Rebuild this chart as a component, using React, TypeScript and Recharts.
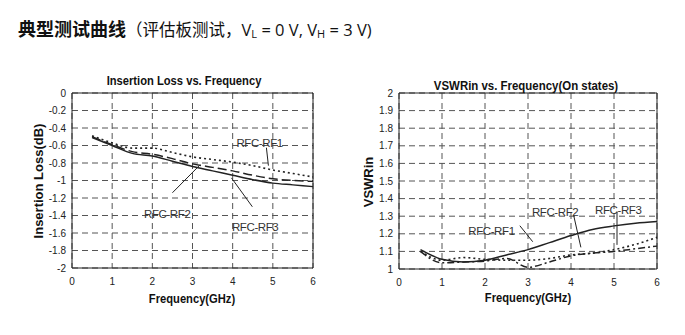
import { LineChart, Line, XAxis, YAxis, CartesianGrid, ReferenceLine, ReferenceDot } from 'recharts'

const freq = [0.5, 1, 1.5, 2, 2.5, 3, 3.5, 4, 4.5, 5, 5.5, 6]
const freqTicks = [0, 1, 2, 3, 4, 5, 6]

// insertion loss (dB)
const ilTicks = [0, -0.2, -0.4, -0.6, -0.8, -1, -1.2, -1.4, -1.6, -1.8, -2]
const ilRf1 = [-0.49, -0.57, -0.63, -0.63, -0.68, -0.73, -0.76, -0.79, -0.83, -0.88, -0.92, -0.96]
const ilRf2 = [-0.5, -0.59, -0.67, -0.7, -0.75, -0.81, -0.85, -0.89, -0.94, -0.98, -1.0, -1.01]
const ilRf3 = [-0.51, -0.6, -0.69, -0.72, -0.78, -0.84, -0.89, -0.94, -0.99, -1.03, -1.05, -1.07]

// VSWR in, on states
const vsTicks = [1, 1.1, 1.2, 1.3, 1.4, 1.5, 1.6, 1.7, 1.8, 1.9, 2]
const vsRf1 = [1.11, 1.055, 1.04, 1.05, 1.08, 1.11, 1.15, 1.19, 1.225, 1.245, 1.26, 1.27]
const vsRf2 = [1.1, 1.035, 1.04, 1.045, 1.06, 1.01, 1.04, 1.075, 1.09, 1.1, 1.115, 1.13]
const vsRf3 = [1.1, 1.05, 1.065, 1.055, 1.05, 1.05, 1.06, 1.08, 1.09, 1.11, 1.14, 1.18]

const pts = (vals: number[]) => freq.map((f, i) => ({ f, v: vals[i] }))

const ink = '#222'
const tick = { fontSize: 10, fill: '#222' }
const labelStyle = { fontSize: 11.5, fill: '#333', letterSpacing: -0.4 }

export default function App() {
  const boldLbl: any = { position: 'absolute', fontWeight: 'bold', fontSize: 13, color: '#111', whiteSpace: 'nowrap' }
  const sub: any = { fontSize: 11, verticalAlign: '-2px' }
  return (
    <div style={{ position: 'absolute', left: 0, top: 0, width: 685, height: 335, background: '#fff', fontFamily: "'Liberation Sans', Arial, sans-serif" }}>
      <div style={{ position: 'absolute', left: 18, top: 15, whiteSpace: 'nowrap', fontFamily: "'Open Sans', 'Noto Sans CJK SC', sans-serif", color: '#111' }}>
        <span style={{ fontSize: 18, fontWeight: 'bold', fontFamily: "'Noto Sans CJK SC', sans-serif" }}>典型测试曲线</span>
        <span style={{ fontSize: 16.5 }}>（评估板测试，V<sub style={sub}>L</sub> = 0 V, V<sub style={sub}>H</sub> = 3 V)</span>
      </div>

      {/* left: insertion loss */}
      <div style={{ position: 'absolute', left: 0, top: 0 }}>
        <LineChart width={330} height={310} margin={{ top: 93, right: 17, bottom: 12, left: 0 }}>
          <CartesianGrid stroke="#555" strokeDasharray="6 4" />
          <XAxis type="number" dataKey="f" domain={[0, 6]} ticks={freqTicks} interval={0} tick={tick} tickLine={false} tickSize={0} tickMargin={10} height={30} stroke={ink} allowDuplicatedCategory={false} />
          <YAxis type="number" domain={[-2, 0]} ticks={ilTicks} interval={0} tick={tick} tickLine={false} tickSize={0} tickMargin={6} width={72} stroke={ink} />
          <ReferenceLine y={0} stroke={ink} />
          <ReferenceLine x={6} stroke={ink} />
          <Line data={pts(ilRf1)} dataKey="v" type="monotone" stroke={ink} strokeWidth={1.6} strokeDasharray="2 3" dot={false} isAnimationActive={false} />
          <Line data={pts(ilRf2)} dataKey="v" type="monotone" stroke={ink} strokeWidth={1.5} strokeDasharray="9 4" dot={false} isAnimationActive={false} />
          <Line data={pts(ilRf3)} dataKey="v" type="monotone" stroke={ink} strokeWidth={1.5} dot={false} isAnimationActive={false} />
          <ReferenceLine segment={[{ x: 4.84, y: -0.625 }, { x: 4.89, y: -0.83 }]} stroke={ink} />
          <ReferenceLine segment={[{ x: 2.5, y: -1.14 }, { x: 3.19, y: -0.82 }]} stroke={ink} />
          <ReferenceLine segment={[{ x: 3.97, y: -0.97 }, { x: 4.49, y: -1.3 }]} stroke={ink} />
          <ReferenceDot x={4.67} y={-0.568} r={0} fill="none" stroke="none" label={{ value: 'RFC-RF1', position: 'center', ...labelStyle }} />
          <ReferenceDot x={2.37} y={-1.38} r={0} fill="none" stroke="none" label={{ value: 'RFC-RF2', position: 'center', ...labelStyle }} />
          <ReferenceDot x={4.56} y={-1.53} r={0} fill="none" stroke="none" label={{ value: 'RFC-RF3', position: 'center', ...labelStyle }} />
        </LineChart>
      </div>
      <div style={{ ...boldLbl, left: 184, top: 80, transform: 'translate(-50%, -50%) scaleX(0.86)' }}>Insertion Loss vs. Frequency</div>
      <div style={{ ...boldLbl, left: 192, top: 298, transform: 'translate(-50%, -50%) scaleX(0.86)' }}>Frequency(GHz)</div>
      <div style={{ ...boldLbl, left: 38, top: 181, transform: 'translate(-50%, -50%) rotate(-90deg)' }}>Insertion Loss(dB)</div>

      {/* right: VSWR */}
      <div style={{ position: 'absolute', left: 340, top: 0 }}>
        <LineChart width={345} height={310} margin={{ top: 93, right: 28, bottom: 11, left: 0 }}>
          <CartesianGrid stroke="#555" strokeDasharray="6 4" />
          <XAxis type="number" dataKey="f" domain={[0, 6]} ticks={freqTicks} interval={0} tick={tick} tickLine={false} tickSize={0} tickMargin={10} height={30} stroke={ink} allowDuplicatedCategory={false} />
          <YAxis type="number" domain={[1, 2]} ticks={vsTicks} interval={0} tick={tick} tickLine={false} tickSize={0} tickMargin={6} width={59} stroke={ink} />
          <ReferenceLine y={2} stroke={ink} />
          <ReferenceLine x={6} stroke={ink} />
          <Line data={pts(vsRf1)} dataKey="v" type="monotone" stroke={ink} strokeWidth={1.5} dot={false} isAnimationActive={false} />
          <Line data={pts(vsRf2)} dataKey="v" type="monotone" stroke={ink} strokeWidth={1.5} strokeDasharray="7 3 2 3" dot={false} isAnimationActive={false} />
          <Line data={pts(vsRf3)} dataKey="v" type="monotone" stroke={ink} strokeWidth={1.6} strokeDasharray="2 3" dot={false} isAnimationActive={false} />
          <ReferenceLine segment={[{ x: 2.81, y: 1.246 }, { x: 3.11, y: 1.155 }]} stroke={ink} />
          <ReferenceLine segment={[{ x: 4.06, y: 1.307 }, { x: 4.23, y: 1.123 }]} stroke={ink} />
          <ReferenceLine segment={[{ x: 5.07, y: 1.326 }, { x: 5.07, y: 1.137 }]} stroke={ink} />
          <ReferenceDot x={2.15} y={1.218} r={0} fill="none" stroke="none" label={{ value: 'RFC-RF1', position: 'center', ...labelStyle }} />
          <ReferenceDot x={3.63} y={1.326} r={0} fill="none" stroke="none" label={{ value: 'RFC-RF2', position: 'center', ...labelStyle }} />
          <ReferenceDot x={5.1} y={1.336} r={0} fill="none" stroke="none" label={{ value: 'RFC-RF3', position: 'center', ...labelStyle }} />
        </LineChart>
      </div>
      <div style={{ ...boldLbl, left: 526, top: 85, transform: 'translate(-50%, -50%) scaleX(0.88)' }}>VSWRin vs. Frequency(On states)</div>
      <div style={{ ...boldLbl, left: 528, top: 297, transform: 'translate(-50%, -50%) scaleX(0.86)' }}>Frequency(GHz)</div>
      <div style={{ ...boldLbl, left: 368, top: 182, transform: 'translate(-50%, -50%) rotate(-90deg)' }}>VSWRin</div>
    </div>
  )
}
